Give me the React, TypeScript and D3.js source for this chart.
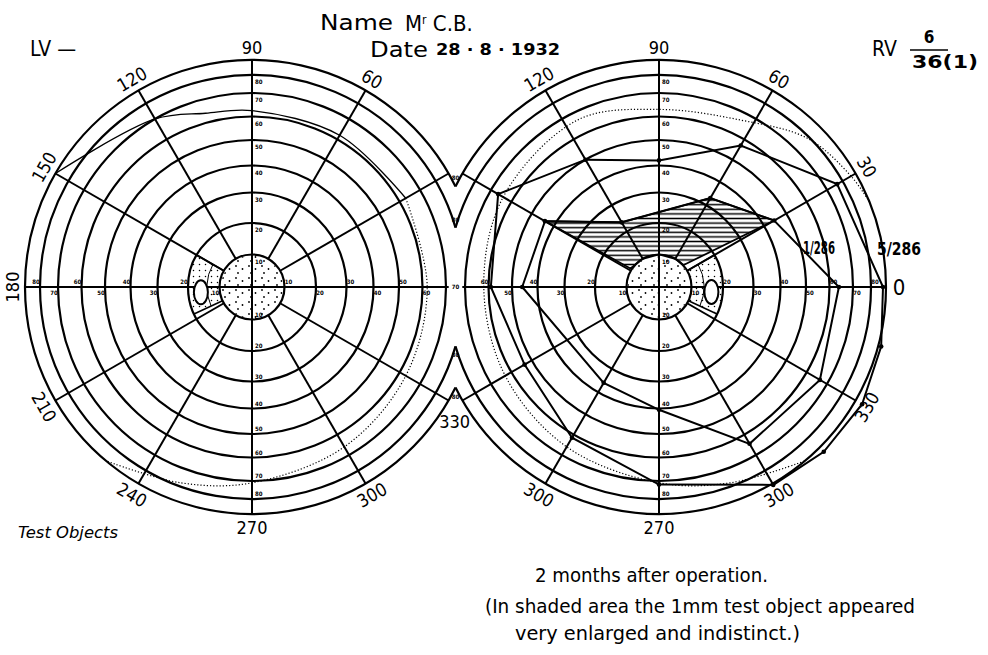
import React from "react";
import * as d3 from "d3";

// grid rings (degrees of field) and meridians
const ringValues = [10, 20, 30, 40, 50, 60, 70, 80, 90];
const spokeAngles = [0, 30, 60, 90, 120, 150, 180, 210, 240, 270, 300, 330];

// meridian labels [angle, text]
const leftAngleLabels: [number, string][] = [
  [90, "90"], [120, "120"], [60, "60"], [150, "150"], [180, "180"],
  [210, "210"], [240, "240"], [270, "270"], [300, "300"], [330, "330"],
];
const rightAngleLabels: [number, string][] = [
  [90, "90"], [120, "120"], [60, "60"], [30, "30"], [0, "0"],
  [330, "330"], [300, "300"], [270, "270"], [240, "300"],
];

// isopters as [meridian, degrees]
const leftNormalSolid: [number, number][] = [[150, 90], [120, 70], [105, 64], [90, 62.5], [60, 62], [30, 63]];
const leftNormalDotted: [number, number][] = [[30, 63], [0, 62], [330, 63], [300, 66], [270, 71], [250, 78], [230, 90]];
const rightNormalDotted: [number, number][] = [
  [22, 90], [30, 86.5], [45, 79], [64, 66.5], [90, 63], [116, 66.5], [150, 64],
  [180, 62], [210, 63], [240, 66], [270, 71], [290, 78], [310, 90],
];
const rightOuterIsopter: [number, number][] = [
  [150, 66.5], [120, 50], [90, 42], [60, 57], [30, 76.5], [0, 88], [345, 92],
  [330, 95], [315, 94], [300, 91], [270, 72], [240, 61.5], [210, 53.5], [180, 59],
];
const rightInnerIsopter: [number, number][] = [
  [180, 46], [150, 44], [120, 23.5], [60, 33], [30, 44.5], [0, 64],
  [330, 66.5], [300, 64.5], [270, 40.5], [240, 36],
];
const rightShaded: [number, number][] = [
  [150, 44], [120, 23.5], [60, 33], [30, 44.5], [42, 10], [60, 10], [90, 10], [120, 10], [147, 10.5],
];
const leftBlindSpot: [number, number] = [186, 16];
const rightBlindSpot: [number, number] = [354.5, 16.4];

const W = 988;
const H = 655;
const LC = { x: 252, y: 287 };
const RC = { x: 659, y: 287 };
const half = (RC.x - LC.x) / 2;

const rScale = d3
  .scaleLinear()
  .domain([0, ...ringValues])
  .range([0, 32.5, 64, 94.5, 121.5, 147, 170.5, 194, 212, 227]);

type C = { x: number; y: number };
const rad = (a: number) => (a * Math.PI) / 180;
const pt = (c: C, a: number, f: number): [number, number] => {
  const r = rScale(f);
  return [c.x + r * Math.cos(rad(a)), c.y - r * Math.sin(rad(a))];
};
const at = (c: C, a: number, r: number): [number, number] => [
  c.x + r * Math.cos(rad(a)),
  c.y - r * Math.sin(rad(a)),
];

const sans = "'DejaVu Sans Condensed', 'Liberation Sans Narrow', 'DejaVu Sans', sans-serif";
const hand = "'DejaVu Sans Condensed', 'DejaVu Sans', sans-serif";

function Grid({ c, side }: { c: C; side: "left" | "right" }) {
  const nasal = side === "left" ? 0 : 180;
  const temporal = side === "left" ? 180 : 0;
  const outer = ringValues.slice(7).map((v) => {
    const r = rScale(v);
    const t0 = Math.acos(half / r);
    const p = d3.path();
    if (side === "left") {
      p.moveTo(c.x + r * Math.cos(-t0), c.y + r * Math.sin(-t0));
      p.arc(c.x, c.y, r, -t0, t0, true);
    } else {
      p.moveTo(c.x + r * Math.cos(Math.PI + t0), c.y + r * Math.sin(Math.PI + t0));
      p.arc(c.x, c.y, r, Math.PI + t0, 3 * Math.PI - t0, false);
    }
    return <path key={v} d={p.toString()} fill="none" stroke="#000" strokeWidth={2.2} />;
  });
  const spokes = spokeAngles
    .filter((a) => a % 90 !== 0)
    .map((a) => {
      const [x1, y1] = pt(c, a, 10);
      const [x2, y2] = pt(c, a, 90);
      return <line key={a} x1={x1} y1={y1} x2={x2} y2={y2} stroke="#000" strokeWidth={2} />;
    });
  const [vx1, vy1] = pt(c, 90, 90);
  const [vx2, vy2] = pt(c, 270, 90);
  const [hx1, hy1] = pt(c, temporal, 90);
  const [hx2, hy2] = pt(c, nasal, 71.5);

  // ring value labels on the axes
  const labels: JSX.Element[] = [];
  const lab = { fontSize: 6, fontWeight: "bold", fontFamily: sans, fill: "#000" } as const;
  ringValues.forEach((v) => {
    if (v < 90) {
      const ry = rScale(v);
      labels.push(
        <text key={"u" + v} x={c.x + 3} y={c.y - ry + 9} {...lab}>{v}</text>,
        <text key={"d" + v} x={c.x + 3} y={c.y + ry - 3} {...lab}>{v}</text>
      );
    }
    const even = (v / 10) % 2 === 0;
    const rt = rScale(v) + 4;
    const tx = temporal === 180 ? c.x - rt : c.x + rt;
    if (v < 90) {
      labels.push(
        <text key={"t" + v} x={tx} y={even ? c.y - 3 : c.y + 8} textAnchor="middle" {...lab}>{v}</text>
      );
    }
    if (v <= 60) {
      const nx = nasal === 0 ? c.x + rt : c.x - rt;
      labels.push(
        <text key={"n" + v} x={nx} y={even === (side === "right") ? c.y - 3 : c.y + 8} textAnchor="middle" {...lab}>{v}</text>
      );
    }
  });

  return (
    <g>
      {ringValues.slice(0, 7).map((v) => (
        <circle key={v} cx={c.x} cy={c.y} r={rScale(v)} fill="none" stroke="#000" strokeWidth={2.2} />
      ))}
      {outer}
      {spokes}
      <line x1={vx1} y1={vy1} x2={vx2} y2={vy2} stroke="#000" strokeWidth={2} />
      <line x1={hx1} y1={hy1} x2={hx2} y2={hy2} stroke="#000" strokeWidth={2} />
      {labels}
    </g>
  );
}

function AngleLabels({ c, labels, side }: { c: C; labels: [number, string][]; side: string }) {
  return (
    <g>
      {labels.map(([a, t]) => {
        const flat = a === 0 || (side === "left" && a === 330);
        const [x, y] = flat && a === 330 ? at(c, a - 3.5, 243) : at(c, a, 240);
        let rot = a <= 180 ? 90 - a : 270 - a;
        if (flat) rot = 0;
        return (
          <text
            key={a + t}
            x={x}
            y={y}
            transform={`rotate(${rot},${x},${y})`}
            textAnchor="middle"
            dominantBaseline="central"
            fontSize={a === 0 && side === "right" ? 22 : 18}
            fontFamily={sans}
          >
            {t}
          </text>
        );
      })}
    </g>
  );
}

function BlindSpot({ c, spot, from, to }: { c: C; spot: [number, number]; from: number; to: number }) {
  const arc = d3
    .arc()
    .innerRadius(rScale(10))
    .outerRadius(rScale(20))
    .startAngle(rad(90 - to))
    .endAngle(rad(90 - from));
  const [ex, ey] = pt(c, spot[0], spot[1]);
  const mid = d3.path();
  const r14 = rScale(14);
  mid.moveTo(c.x + r14 * Math.cos(-rad(to)), c.y + r14 * Math.sin(-rad(to)));
  mid.arc(c.x, c.y, r14, -rad(to), -rad(from), false);
  const [lx1, ly1] = pt(c, from, 10);
  const [lx2, ly2] = pt(c, from, 20);
  const [ux1, uy1] = pt(c, to, 10);
  const [ux2, uy2] = pt(c, to, 20);
  return (
    <g>
      <path d={arc(null as any) || ""} transform={`translate(${c.x},${c.y})`} fill="url(#stip)" />
      <path d={mid.toString()} fill="none" stroke="#000" strokeWidth={1} />
      <line x1={lx1} y1={ly1} x2={lx2} y2={ly2} stroke="#000" strokeWidth={1.5} />
      <line x1={ux1} y1={uy1} x2={ux2} y2={uy2} stroke="#000" strokeWidth={1.5} />
      <ellipse cx={ex} cy={ey} rx={7} ry={12} fill="#fff" stroke="#000" strokeWidth={2} />
    </g>
  );
}

export default function App() {
  const lineL = (c: C) => d3.line<[number, number]>().x((d) => pt(c, d[0], d[1])[0]).y((d) => pt(c, d[0], d[1])[1]);
  const closedL = (c: C) => lineL(c).curve(d3.curveLinearClosed);
  const smoothL = (c: C) => lineL(c).curve(d3.curveCatmullRom);

  const vTop = (r: number) => RC.y - Math.sqrt(r * r - half * half);
  const vBot = (r: number) => RC.y + Math.sqrt(r * r - half * half);
  const fit = { lengthAdjust: "spacingAndGlyphs" } as const;

  return (
    <svg width={W} height={H} style={{ position: "absolute", left: 0, top: 0, background: "#fff" }}>
      <defs>
        <pattern id="stip" width={6} height={6} patternUnits="userSpaceOnUse">
          <circle cx={1.5} cy={1.5} r={0.75} fill="#000" />
        </pattern>
        <pattern id="stip2" width={13} height={12} patternUnits="userSpaceOnUse">
          <circle cx={2} cy={2} r={0.9} fill="#000" />
          <circle cx={8.5} cy={5} r={0.9} fill="#000" />
          <circle cx={4} cy={9} r={0.9} fill="#000" />
        </pattern>
        <pattern id="hatch" width={10} height={4.6} patternUnits="userSpaceOnUse">
          <line x1={0} y1={2.3} x2={10} y2={2.3} stroke="#000" strokeWidth={1.5} />
        </pattern>
      </defs>
      <rect width={W} height={H} fill="#fff" />

      <Grid c={LC} side="left" />
      <Grid c={RC} side="right" />

      {/* central stippled discs */}
      {[LC, RC].map((c, i) => (
        <circle key={i} cx={c.x} cy={c.y} r={rScale(10) - 1.2} fill="url(#stip2)" />
      ))}

      <BlindSpot c={LC} spot={leftBlindSpot} from={150} to={205} />
      <BlindSpot c={RC} spot={rightBlindSpot} from={-25} to={30} />

      {/* shaded area */}
      <path d={closedL(RC)(rightShaded) || ""} fill="url(#hatch)" stroke="#000" strokeWidth={1.8} />

      {/* normal field outlines */}
      <path d={smoothL(LC)(leftNormalSolid) || ""} fill="none" stroke="#000" strokeWidth={1.3} />
      <path d={smoothL(LC)(leftNormalDotted) || ""} fill="none" stroke="#000" strokeWidth={1.2} strokeDasharray="1.2 2" />
      <path d={smoothL(RC)(rightNormalDotted) || ""} fill="none" stroke="#000" strokeWidth={1.2} strokeDasharray="1.2 2" />

      {/* right field isopters */}
      <path d={closedL(RC)(rightOuterIsopter) || ""} fill="none" stroke="#000" strokeWidth={2} />
      <path d={closedL(RC)(rightInnerIsopter) || ""} fill="none" stroke="#000" strokeWidth={2} />
      {[...rightOuterIsopter, ...rightInnerIsopter].map((d, i) => {
        const [x, y] = pt(RC, d[0], d[1]);
        return <circle key={i} cx={x} cy={y} r={2.3} fill="#000" />;
      })}

      {/* notch labels */}
      {[rScale(80), rScale(90)].map((r, i) => (
        <g key={i} fontSize={6} fontWeight="bold" fontFamily={sans} textAnchor="middle">
          <text x={half + LC.x} y={vTop(r) - 6}>80</text>
          <text x={half + LC.x} y={vBot(r) + 11}>80</text>
        </g>
      ))}
      <text x={half + LC.x} y={RC.y + 2} fontSize={6} fontWeight="bold" fontFamily={sans} textAnchor="middle">70</text>

      <AngleLabels c={LC} labels={leftAngleLabels} side="left" />
      <AngleLabels c={RC} labels={rightAngleLabels} side="right" />

      {/* header */}
      <text x={320} y={30} fontSize={22} fontFamily={sans} textLength={73} {...fit}>Name</text>
      <text x={405} y={31} fontSize={22} fontFamily={hand}>
        M<tspan dy={-7} fontSize={12}>r</tspan>
        <tspan dy={7}> C.B.</tspan>
      </text>
      <text x={30} y={56} fontSize={21} fontFamily={sans}>LV —</text>
      <text x={370} y={57} fontSize={21} fontFamily={sans} textLength={58} {...fit}>Date</text>
      <text x={436} y={55} fontSize={15} fontWeight="bold" fontFamily={hand} textLength={124} {...fit}>28 · 8 · 1932</text>
      <text x={872} y={56} fontSize={21} fontFamily={sans}>RV</text>
      <text x={929} y={43} fontSize={17} fontWeight="bold" fontFamily={hand} textAnchor="middle">6</text>
      <line x1={910} y1={50} x2={948} y2={50} stroke="#000" strokeWidth={1.5} />
      <text x={912} y={68} fontSize={17} fontWeight="bold" fontFamily={hand} textLength={66} {...fit}>36(1)</text>

      <text x={18} y={538} fontSize={15} fontFamily={sans} fontStyle="italic" textLength={100} {...fit}>Test Objects</text>

      <text x={803} y={254} fontSize={17} fontWeight="bold" fontFamily={hand} textLength={32} {...fit}>1/286</text>
      <text x={877} y={255} fontSize={17} fontWeight="bold" fontFamily={hand} textLength={44} {...fit}>5/286</text>

      <text x={535} y={582} fontSize={20} fontFamily={hand} textLength={233} {...fit}>2 months after operation.</text>
      <text x={485} y={613} fontSize={20} fontFamily={hand} textLength={430} {...fit}>(In shaded area the 1mm test object appeared</text>
      <text x={515} y={640} fontSize={20} fontFamily={hand} textLength={285} {...fit}>very enlarged and indistinct.)</text>
    </svg>
  );
}
